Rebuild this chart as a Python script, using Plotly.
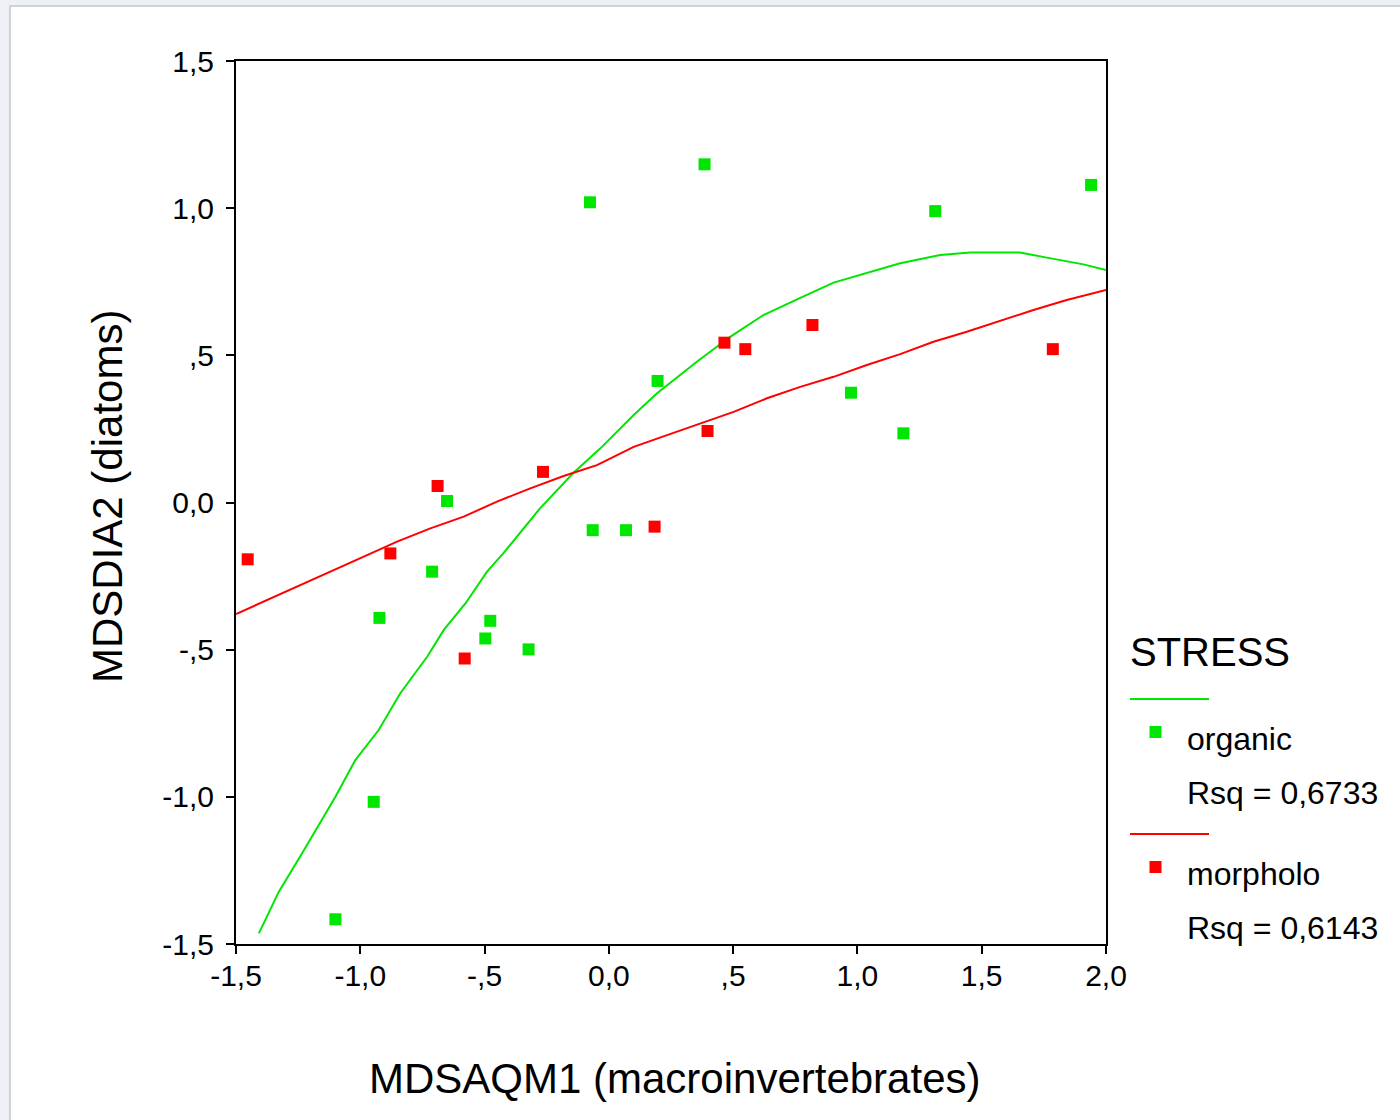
import plotly.graph_objects as go

# ---- data ----
organic_x = [-1.100, -0.946, -0.923, -0.711, -0.651, -0.497, -0.477, -0.323, -0.076, -0.065,
             0.069, 0.196, 0.385, 0.974, 1.185, 1.313, 1.940]
organic_y = [-1.416, -1.017, -0.392, -0.235, 0.005, -0.462, -0.402, -0.499, 1.020, -0.094,
             -0.094, 0.413, 1.149, 0.373, 0.235, 0.990, 1.079]

morpholo_x = [-1.453, -0.879, -0.689, -0.580, -0.265, 0.184, 0.397, 0.465, 0.549, 0.819, 1.786]
morpholo_y = [-0.193, -0.173, 0.056, -0.530, 0.104, -0.082, 0.243, 0.543, 0.521, 0.603, 0.521]

# fitted curves as drawn in the reference
organic_fit_x = [-1.408, -1.328, -1.234, -1.100, -1.020, -0.926, -0.839, -0.731, -0.664, -0.577,
                 -0.490, -0.424, -0.276, -0.143, -0.034, 0.100, 0.194, 0.354, 0.488, 0.622,
                 0.757, 0.904, 1.172, 1.333, 1.453, 1.654, 1.762, 1.909, 2.000]
organic_fit_y = [-1.464, -1.323, -1.192, -1.000, -0.875, -0.773, -0.648, -0.524, -0.433, -0.343,
                 -0.235, -0.172, -0.019, 0.100, 0.184, 0.297, 0.371, 0.478, 0.563, 0.637,
                 0.690, 0.747, 0.813, 0.841, 0.849, 0.849, 0.832, 0.809, 0.790]

morpholo_fit_x = [-1.500, -1.388, -1.254, -1.120, -0.986, -0.852, -0.718, -0.584, -0.450, -0.316,
                  -0.182, -0.048, 0.100, 0.234, 0.368, 0.502, 0.636, 0.770, 0.904, 1.038,
                  1.172, 1.306, 1.440, 1.574, 1.708, 1.842, 2.000]
morpholo_fit_y = [-0.379, -0.337, -0.286, -0.235, -0.184, -0.133, -0.088, -0.048, 0.003, 0.048,
                  0.090, 0.127, 0.189, 0.229, 0.269, 0.308, 0.354, 0.393, 0.427, 0.467,
                  0.504, 0.546, 0.580, 0.618, 0.654, 0.688, 0.722]

tick_vals = [-1.5, -1.0, -0.5, 0.0, 0.5, 1.0, 1.5, 2.0]
tick_text = ["-1,5", "-1,0", "-,5", "0,0", ",5", "1,0", "1,5", "2,0"]
ytick_vals = [-1.5, -1.0, -0.5, 0.0, 0.5, 1.0, 1.5]
ytick_text = ["-1,5", "-1,0", "-,5", "0,0", ",5", "1,0", "1,5"]

legend_title = "STRESS"
group_names = ["organic", "morpholo"]
rsq_labels = ["Rsq = 0,6733", "Rsq = 0,6143"]

GREEN = "#00e600"
RED = "#ff0000"
FONT = "Arial, Liberation Sans, sans-serif"

# ---- figure geometry ----
W, H = 1400, 1120
ML, MR, MT, MB = 236, 294, 61, 176
PW, PH = W - ML - MR, H - MT - MB


def px(x):
    return (x - ML) / PW


def py(y):
    return (H - MB - y) / PH


fig = go.Figure()

fig.add_trace(go.Scatter(x=organic_fit_x, y=organic_fit_y, mode="lines",
                         line=dict(color=GREEN, width=2), showlegend=False, hoverinfo="skip"))
fig.add_trace(go.Scatter(x=morpholo_fit_x, y=morpholo_fit_y, mode="lines",
                         line=dict(color=RED, width=2), showlegend=False, hoverinfo="skip"))
fig.add_trace(go.Scatter(x=organic_x, y=organic_y, mode="markers", name=group_names[0],
                         marker=dict(symbol="square", size=12, color=GREEN, line=dict(width=0)),
                         showlegend=False))
fig.add_trace(go.Scatter(x=morpholo_x, y=morpholo_y, mode="markers", name=group_names[1],
                         marker=dict(symbol="square", size=12, color=RED, line=dict(width=0)),
                         showlegend=False))

shapes = [
    # page frame
    dict(type="rect", xref="paper", yref="paper", layer="below",
         x0=px(10), x1=px(1410), y0=py(1130), y1=py(6),
         fillcolor="white", line=dict(color="#c4c8cc", width=1.5)),
    # legend lines
    dict(type="line", xref="paper", yref="paper", x0=px(1130), x1=px(1209), y0=py(699), y1=py(699),
         line=dict(color=GREEN, width=2)),
    dict(type="line", xref="paper", yref="paper", x0=px(1130), x1=px(1209), y0=py(834), y1=py(834),
         line=dict(color=RED, width=2)),
    # legend squares
    dict(type="rect", xref="paper", yref="paper", x0=px(1149.5), x1=px(1161.5), y0=py(738), y1=py(726),
         fillcolor=GREEN, line=dict(width=0)),
    dict(type="rect", xref="paper", yref="paper", x0=px(1149.5), x1=px(1161.5), y0=py(873), y1=py(861),
         fillcolor=RED, line=dict(width=0)),
]

annotations = [
    dict(text="MDSAQM1 (macroinvertebrates)", xref="paper", yref="paper",
         x=px(674), y=py(1078), showarrow=False, xanchor="center", yanchor="middle",
         font=dict(family=FONT, size=42, color="black")),
    dict(text="MDSDIA2 (diatoms)", xref="paper", yref="paper", textangle=-90,
         x=px(107), y=py(497), showarrow=False, xanchor="center", yanchor="middle",
         font=dict(family=FONT, size=42, color="black")),
    dict(text=legend_title, xref="paper", yref="paper", x=px(1128), y=py(652),
         showarrow=False, xanchor="left", yanchor="middle",
         font=dict(family=FONT, size=40, color="black")),
    dict(text=group_names[0], xref="paper", yref="paper", x=px(1185), y=py(739),
         showarrow=False, xanchor="left", yanchor="middle",
         font=dict(family=FONT, size=32, color="black")),
    dict(text=rsq_labels[0], xref="paper", yref="paper", x=px(1185), y=py(793),
         showarrow=False, xanchor="left", yanchor="middle",
         font=dict(family=FONT, size=32, color="black")),
    dict(text=group_names[1], xref="paper", yref="paper", x=px(1185), y=py(874),
         showarrow=False, xanchor="left", yanchor="middle",
         font=dict(family=FONT, size=32, color="black")),
    dict(text=rsq_labels[1], xref="paper", yref="paper", x=px(1185), y=py(928),
         showarrow=False, xanchor="left", yanchor="middle",
         font=dict(family=FONT, size=32, color="black")),
]

fig.update_layout(
    width=W, height=H,
    margin=dict(l=ML, r=MR, t=MT, b=MB, pad=0),
    paper_bgcolor="#edf1f6", plot_bgcolor="white",
    showlegend=False,
    shapes=shapes, annotations=annotations,
    font=dict(family=FONT, color="black"),
)

fig.update_xaxes(range=[-1.5, 2.0], tickvals=tick_vals, ticktext=tick_text,
                 showgrid=False, zeroline=False, showline=True, mirror=True,
                 linecolor="black", linewidth=2, ticks="outside", ticklen=8, tickwidth=2,
                 tickcolor="black", ticklabelstandoff=-4,
                 tickfont=dict(family=FONT, size=30, color="black"))
fig.update_yaxes(range=[-1.5, 1.5], tickvals=ytick_vals, ticktext=ytick_text,
                 showgrid=False, zeroline=False, showline=True, mirror=True,
                 linecolor="black", linewidth=2, ticks="outside", ticklen=8, tickwidth=2,
                 tickcolor="black", ticklabelstandoff=6,
                 tickfont=dict(family=FONT, size=30, color="black"))

fig.write_html("out.html")
